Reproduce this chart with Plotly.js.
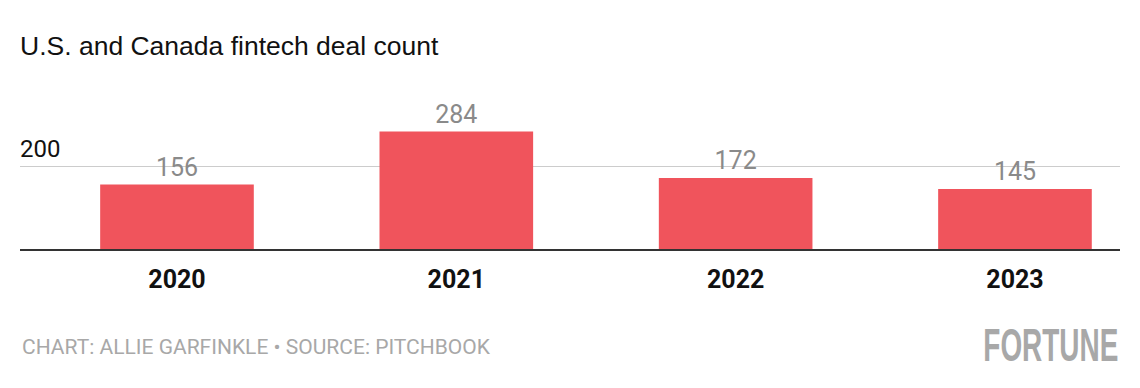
<!DOCTYPE html>
<html>
<head>
<meta charset="utf-8">
<script src="https://cdn.plot.ly/plotly-3.0.1.min.js"></script>
<style>html,body{margin:0;padding:0;background:#fff;}#chart{width:1140px;height:388px;}</style>
</head>
<body>
<div id="chart"></div>
<script>
const years = ["2020", "2021", "2022", "2023"];
const dealCounts = [156, 284, 172, 145];
const yTickValues = [200];
const yTickLabels = ["200"];
const titleText = "U.S. and Canada fintech deal count";
const footerText = "CHART: ALLIE GARFINKLE • SOURCE: PITCHBOOK";
const logoText = "FORTUNE";

const trace = {
  type: "bar",
  x: years,
  y: dealCounts,
  width: 0.55,
  marker: {color: "#F0545C"},
  text: dealCounts.map(String),
  textposition: "outside",
  textfont: {family: "Roboto, sans-serif", size: 25, color: "#8a8a8a"},
  cliponaxis: false,
  hoverinfo: "skip"
};

const layout = {
  width: 1140,
  height: 388,
  margin: {l: 20, r: 20, t: 125, b: 139, pad: 0},
  paper_bgcolor: "#fff",
  plot_bgcolor: "#fff",
  showlegend: false,
  title: {
    text: titleText,
    xref: "container", yref: "container",
    x: 20/1140, xanchor: "left",
    y: 1 - 46/388, yanchor: "middle",
    font: {family: "Liberation Sans, Arial, sans-serif", size: 26.5, color: "#111"}
  },
  xaxis: {
    type: "category",
    range: [-0.562, 3.376],
    showgrid: false,
    zeroline: false,
    showline: true,
    linecolor: "#333",
    linewidth: 2,
    ticks: "",
    ticklabelstandoff: 7,
    tickfont: {family: "Roboto, sans-serif", size: 25, color: "#111", weight: "bold"},
    fixedrange: true
  },
  yaxis: {
    range: [0, 300],
    tickvals: yTickValues,
    ticktext: yTickLabels,
    ticklabelposition: "inside",
    ticklabelshift: -18,
    ticklabelstandoff: -3,
    tickfont: {family: "Roboto, sans-serif", size: 24, color: "#111"},
    showgrid: true,
    gridcolor: "#cccccc",
    gridwidth: 1.5,
    zeroline: false,
    showline: false,
    ticks: "",
    fixedrange: true
  },
  annotations: [
    {
      text: footerText,
      xref: "paper", yref: "paper",
      x: 0, xanchor: "left",
      y: -0.79, yanchor: "middle",
      showarrow: false,
      font: {family: "Roboto, sans-serif", size: 21, color: "#a8a8a8"}
    },
    {
      text: logoText,
      xref: "paper", yref: "paper",
      x: 1, xanchor: "right",
      y: -0.774, yanchor: "middle",
      showarrow: false,
      font: {family: "Liberation Sans, Arial, sans-serif", size: 46, color: "#a8a8a8", weight: "bold"}
    }
  ]
};

Plotly.newPlot("chart", [trace], layout, {displayModeBar: false, staticPlot: true}).then(function () {
  // condense the logo wordmark horizontally, anchored at its right edge
  document.querySelectorAll("g.annotation text.annotation-text").forEach(function (t) {
    if (t.textContent === logoText) {
      const bb = t.getBBox();
      const right = bb.x + bb.width;
      const sx = 135 / bb.width;
      t.setAttribute("transform", "translate(" + right + ",0) scale(" + sx + ",1) translate(" + (-right) + ",0)");
    }
  });
});
</script>
</body>
</html>
